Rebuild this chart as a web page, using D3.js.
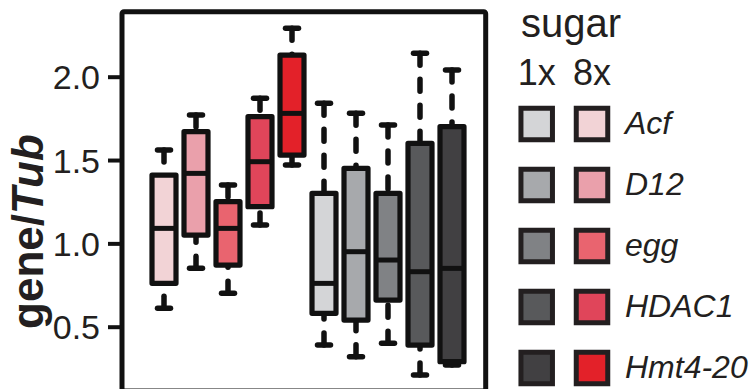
<!DOCTYPE html>
<html>
<head>
<meta charset="utf-8">
<script src="https://cdn.jsdelivr.net/npm/d3@7"></script>
<style>
  html, body { margin: 0; padding: 0; background: #fff; }
  svg { display: block; }
  text { font-family: "Liberation Sans", Arial, Helvetica, sans-serif; fill: #231f20; }
</style>
</head>
<body>
<svg id="chart" width="756" height="389"></svg>
<script>
// Genes and sugar conditions
const genes = ["Acf", "D12", "egg", "HDAC1", "Hmt4-20"];
const conditions = ["8x", "1x"];
const legendColumns = ["1x", "8x"];

// Box statistics, 8x sugar (one entry per gene)
const min8x = [0.61, 0.85, 0.70, 1.11, 1.47];
const q1_8x = [0.76, 1.05, 0.87, 1.22, 1.53];
const med8x = [1.09, 1.42, 1.09, 1.49, 1.78];
const q3_8x = [1.41, 1.67, 1.25, 1.76, 2.13];
const max8x = [1.56, 1.77, 1.35, 1.87, 2.29];

// Box statistics, 1x sugar
const min1x = [0.39, 0.32, 0.40, 0.21, 0.27];
const q1_1x = [0.58, 0.54, 0.66, 0.39, 0.29];
const med1x = [0.76, 0.95, 0.90, 0.83, 0.85];
const q3_1x = [1.30, 1.45, 1.30, 1.60, 1.70];
const max1x = [1.84, 1.78, 1.71, 2.14, 2.04];

// Fill colours per gene
const colors8x = ["#f2d3d6", "#eaa0ab", "#e9646f", "#e0455a", "#e32129"];
const colors1x = ["#d4d5d7", "#a7a9ac", "#808285", "#58595b", "#414042"];

const yTicks = [0.5, 1.0, 1.5, 2.0];

// Build rows: 8x boxes first, then 1x
const rows = [];
conditions.forEach(cond => {
  genes.forEach((g, i) => {
    const is8 = cond === "8x";
    rows.push({
      key: cond + "-" + g,
      gene: g,
      cond: cond,
      min: is8 ? min8x[i] : min1x[i],
      q1: is8 ? q1_8x[i] : q1_1x[i],
      med: is8 ? med8x[i] : med1x[i],
      q3: is8 ? q3_8x[i] : q3_1x[i],
      max: is8 ? max8x[i] : max1x[i],
      fill: is8 ? colors8x[i] : colors1x[i]
    });
  });
});

const svg = d3.select("#chart");
const ink = "#111";

const frame = { left: 122, top: 11.7, right: 485.7, bottom: 391 };

const x = d3.scaleBand()
  .domain(rows.map(d => d.key))
  .range([148, 468])
  .paddingInner(0.25)
  .paddingOuter(0.125);

const y = d3.scaleLinear()
  .domain([0.5, 2.0])
  .range([326.7, 76.7]);

const cx = d => x(d.key) + x.bandwidth() / 2;
const capHalf = 6.5;

// Whiskers (drawn from the cap toward the box)
const g = svg.append("g");
const whisk = g.append("g")
  .attr("stroke", ink)
  .attr("stroke-width", 5.5)
  .attr("stroke-linecap", "round")
  .attr("fill", "none");

rows.forEach(d => {
  whisk.append("line")
    .attr("x1", cx(d)).attr("x2", cx(d))
    .attr("y1", y(d.max)).attr("y2", y(d.q3))
    .attr("stroke-dasharray", "12,14");
  whisk.append("line")
    .attr("x1", cx(d)).attr("x2", cx(d))
    .attr("y1", y(d.min)).attr("y2", y(d.q1))
    .attr("stroke-dasharray", "12,14");
  whisk.append("line")
    .attr("x1", cx(d) - capHalf).attr("x2", cx(d) + capHalf)
    .attr("y1", y(d.max)).attr("y2", y(d.max));
  whisk.append("line")
    .attr("x1", cx(d) - capHalf).attr("x2", cx(d) + capHalf)
    .attr("y1", y(d.min)).attr("y2", y(d.min));
});

// Boxes
const boxes = g.append("g");
boxes.selectAll("rect")
  .data(rows)
  .join("rect")
  .attr("x", d => x(d.key))
  .attr("width", x.bandwidth())
  .attr("y", d => y(d.q3))
  .attr("height", d => y(d.q1) - y(d.q3))
  .attr("fill", d => d.fill)
  .attr("stroke", ink)
  .attr("stroke-width", 5.2)
  .attr("stroke-linejoin", "round");

boxes.selectAll("line.median")
  .data(rows)
  .join("line")
  .attr("class", "median")
  .attr("x1", d => x(d.key))
  .attr("x2", d => x(d.key) + x.bandwidth())
  .attr("y1", d => y(d.med))
  .attr("y2", d => y(d.med))
  .attr("stroke", ink)
  .attr("stroke-width", 5);

// Frame
svg.append("rect")
  .attr("x", frame.left)
  .attr("y", frame.top)
  .attr("width", frame.right - frame.left)
  .attr("height", frame.bottom - frame.top)
  .attr("fill", "none")
  .attr("stroke", ink)
  .attr("stroke-width", 5)
  .attr("rx", 2);

// Y axis ticks and labels
const yAxis = d3.axisLeft(y)
  .tickValues(yTicks)
  .tickFormat(d3.format(".1f"))
  .tickSize(14)
  .tickPadding(8);

const ax = svg.append("g")
  .attr("transform", `translate(${frame.left},0)`)
  .call(yAxis);
ax.select(".domain").remove();
ax.selectAll(".tick line").attr("stroke", ink).attr("stroke-width", 4);
ax.selectAll(".tick text")
  .attr("font-size", 34)
  .attr("fill", "#231f20")
  .attr("dy", "0.36em")
  .style("font-family", "'Liberation Sans', Arial, sans-serif");

// Y axis title
const yt = svg.append("text")
  .attr("transform", "translate(43,231.5) rotate(-90)")
  .attr("text-anchor", "middle")
  .attr("font-size", 44)
  .attr("font-weight", "bold");
yt.append("tspan").text("gene/");
yt.append("tspan").attr("font-style", "italic").text("Tub");

// Legend
const legend = svg.append("g");
legend.append("text")
  .attr("x", 521).attr("y", 37)
  .attr("font-size", 40)
  .text("sugar");

const colX = { "1x": 536.7, "8x": 592 };
legendColumns.forEach(c => {
  legend.append("text")
    .attr("x", colX[c]).attr("y", 85)
    .attr("text-anchor", "middle")
    .attr("font-size", 36)
    .text(c);
});

const rowY = d3.scalePoint().domain(genes).range([124, 368]);
const sw = 31.5;
genes.forEach((gname, i) => {
  legendColumns.forEach(c => {
    legend.append("rect")
      .attr("x", colX[c] - sw / 2)
      .attr("y", rowY(gname) - sw / 2)
      .attr("width", sw).attr("height", sw)
      .attr("fill", c === "1x" ? colors1x[i] : colors8x[i])
      .attr("stroke", "#231f20")
      .attr("stroke-width", 5);
  });
  legend.append("text")
    .attr("x", 625)
    .attr("y", rowY(gname) + 10)
    .attr("font-size", 32)
    .attr("font-style", "italic")
    .text(gname);
});
</script>
</body>
</html>
